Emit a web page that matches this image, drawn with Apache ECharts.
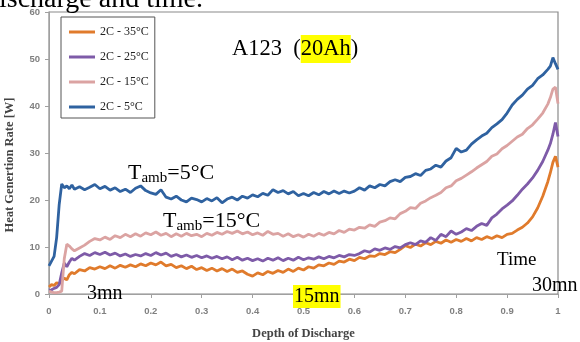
<!DOCTYPE html>
<html>
<head>
<meta charset="utf-8">
<script src="https://cdn.jsdelivr.net/npm/echarts@6/dist/echarts.min.js"></script>
<style>
  html, body { margin: 0; padding: 0; background: #fff; }
  #chart { width: 580px; height: 342px; }
</style>
</head>
<body>
<div id="chart"></div>
<script>
// Depth of discharge sample points
const depth = [0, 0.005, 0.01, 0.015, 0.02, 0.025, 0.03, 0.035, 0.04, 0.045, 0.05,
  0.06, 0.07, 0.08, 0.09, 0.10, 0.11, 0.12, 0.13, 0.14, 0.15, 0.16, 0.17, 0.18, 0.19,
  0.20, 0.21, 0.22, 0.23, 0.24, 0.25, 0.26, 0.27, 0.28, 0.29, 0.30, 0.31, 0.32, 0.33,
  0.34, 0.35, 0.36, 0.37, 0.38, 0.39, 0.40, 0.41, 0.42, 0.43, 0.44, 0.45, 0.46, 0.47,
  0.48, 0.49, 0.50, 0.51, 0.52, 0.53, 0.54, 0.55, 0.56, 0.57, 0.58, 0.59, 0.60, 0.61,
  0.62, 0.63, 0.64, 0.65, 0.66, 0.67, 0.68, 0.69, 0.70, 0.71, 0.72, 0.73, 0.74, 0.75,
  0.76, 0.77, 0.78, 0.79, 0.80, 0.81, 0.82, 0.83, 0.84, 0.85, 0.86, 0.87, 0.88, 0.89,
  0.90, 0.91, 0.92, 0.93, 0.94, 0.95, 0.96, 0.97, 0.98, 0.985, 0.99, 0.995, 1.0];

// Heat generation rate [W] at 2C for each ambient temperature
const heat35 = [1.5, 2.0, 1.8, 2.4, 2.2, 2.8, 3.4, 3.0, 4.1, 4.6, 4.3,
  5.2, 4.9, 5.6, 5.3, 5.8, 5.4, 6.0, 5.5, 6.1, 5.7, 6.2, 5.8, 6.4, 6.0,
  6.6, 6.2, 6.8, 6.0, 6.3, 5.6, 6.0, 5.4, 5.9, 5.2, 5.6, 5.0, 5.5, 4.9,
  5.4, 4.8, 5.3, 4.6, 4.9, 4.2, 3.8, 4.5, 4.1, 4.8, 4.4, 5.0, 4.6, 5.3,
  4.8, 5.5, 5.1, 5.8, 5.5, 6.2, 6.0, 6.6, 6.3, 7.0, 6.8, 7.4, 7.1, 7.8,
  7.5, 8.1, 8.0, 8.6, 8.4, 9.0, 8.8, 9.5, 10.3, 9.9, 10.6, 10.2, 10.9, 10.5,
  11.2, 10.8, 11.5, 11.0, 11.6, 11.2, 11.8, 11.3, 12.0, 11.6, 12.2, 11.8, 12.4, 12.0,
  12.7, 12.9, 13.6, 14.2, 15.1, 16.4, 18.3, 20.8, 23.9, 25.8, 28.0, 29.3, 27.0];

const heat25 = [0.8, 0.9, 1.2, 1.4, 2.0, 4.5, 6.6, 5.8, 6.8, 7.6, 7.2,
  8.0, 8.6, 8.2, 8.8, 8.4, 8.9, 8.3, 8.7, 8.1, 8.5, 8.0, 8.4, 8.1, 8.6,
  8.2, 8.8, 8.3, 8.7, 8.0, 8.4, 7.9, 8.3, 7.8, 8.2, 7.7, 8.1, 7.6, 8.0,
  7.5, 7.9, 7.3, 7.8, 7.2, 7.6, 7.1, 7.5, 7.0, 7.6, 7.2, 7.7, 7.1, 7.6,
  7.2, 7.8, 7.3, 7.7, 7.4, 7.9, 7.5, 8.0, 7.7, 8.2, 7.9, 8.4, 8.2, 8.6,
  9.2, 8.9, 9.6, 9.3, 9.8, 9.5, 10.1, 9.8, 10.5, 10.9, 10.5, 11.3, 11.0, 12.0,
  11.4, 12.7, 12.2, 13.4, 12.7, 13.2, 13.9, 13.5, 14.4, 15.0, 14.6, 16.2, 17.0, 18.1,
  18.9, 19.8, 21.0, 22.3, 23.4, 24.7, 26.3, 28.2, 30.6, 32.0, 34.0, 36.5, 33.5];

const heat15 = [0.6, 0.4, 0.3, 0.3, 0.4, 0.6, 7.5, 10.6, 10.2, 9.6, 9.2,
  9.8, 10.4, 11.2, 11.8, 11.5, 12.1, 11.6, 12.4, 12.0, 12.7, 12.2, 12.8, 12.3, 13.0,
  12.6, 13.2, 12.5, 12.9, 12.2, 12.8, 12.3, 12.9, 12.4, 12.7, 12.2, 12.9, 12.5, 13.1,
  12.7, 13.3, 12.9, 13.4, 12.8, 13.2, 12.6, 13.0, 12.5, 13.3, 12.7, 12.9, 12.3, 12.8,
  12.2, 12.6, 12.1, 12.7, 12.3, 12.9, 12.5, 13.1, 12.8, 13.5, 13.1, 13.8, 13.6, 14.2,
  14.0, 14.7, 14.4, 15.3, 15.6, 16.2, 16.0, 17.1, 17.6, 18.4, 18.2, 19.3, 19.8, 20.5,
  21.0, 21.6, 22.6, 23.0, 24.1, 24.6, 25.3, 26.0, 26.8, 27.5, 28.2, 29.3, 29.8, 30.9,
  31.6, 32.5, 33.4, 34.0, 35.2, 36.0, 37.2, 38.5, 40.4, 41.8, 43.6, 44.0, 40.5];

const heat5 = [6.0, 7.0, 8.0, 12.0, 19.0, 23.4, 22.6, 23.0, 22.4, 23.2, 22.3,
  22.8, 22.2, 22.7, 23.3, 22.4, 22.9, 22.1, 22.6, 21.8, 22.3, 21.6, 22.5, 23.0, 22.0,
  21.5, 21.2, 22.2, 20.6, 20.2, 20.8, 20.0, 19.6, 20.4, 20.1, 19.6, 20.3, 19.8, 20.5,
  19.4, 20.2, 20.6, 20.0, 20.8, 20.4, 21.1, 20.7, 21.4, 21.0, 22.2, 21.6, 22.0, 21.3,
  21.8, 20.9, 21.4, 20.9, 21.6, 21.1, 21.8, 21.3, 21.9, 21.4, 21.9, 21.5, 21.9, 22.6,
  22.1, 23.0, 22.6, 23.3, 23.0, 23.9, 24.3, 23.9, 24.8, 25.0, 25.6, 25.2, 26.3, 26.6,
  27.4, 27.0, 28.3, 29.0, 31.0, 30.2, 30.6, 31.9, 32.8, 33.6, 34.2, 35.4, 36.2, 37.1,
  38.5, 40.2, 41.4, 42.3, 43.6, 44.4, 45.8, 46.6, 47.8, 48.5, 50.3, 49.0, 47.8];

const seriesNames = ['2C - 35°C', '2C - 25°C', '2C - 15°C', '2C - 5°C'];
const seriesValues = [heat35, heat25, heat15, heat5];
const seriesColors = ['#E07B2C', '#7E5BA8', '#DBA3A2', '#2F62A0'];

const xTicks = [0, 0.1, 0.2, 0.3, 0.4, 0.5, 0.6, 0.7, 0.8, 0.9, 1];

const serif = '"Liberation Serif", "Times New Roman", serif';
const sans = '"Liberation Sans", Arial, sans-serif';

const chart = echarts.init(document.getElementById('chart'), null, { renderer: 'canvas' });

const series = seriesNames.map((name, k) => ({
  name: name,
  type: 'line',
  symbol: 'none',
  smooth: false,
  z: 2 + k,
  lineStyle: { width: 2.8, color: seriesColors[k] },
  itemStyle: { color: seriesColors[k] },
  data: depth.map((d, i) => [d, seriesValues[k][i]])
}));

const noteRich = {
  t: { fontFamily: serif, fontSize: 22, color: '#000', lineHeight: 26 },
  s: { fontFamily: serif, fontSize: 15, color: '#000', lineHeight: 12, verticalAlign: 'bottom' }
};

chart.setOption({
  animation: false,
  backgroundColor: '#ffffff',
  grid: {
    left: 49, right: 22, top: 12, bottom: 48,
    outerBoundsMode: 'none',
    show: true, borderColor: '#8a8a8a', borderWidth: 1.2
  },
  legend: {
    orient: 'vertical',
    left: 61, top: 17,
    padding: [9, 6, 5, 8],
    itemGap: 13,
    itemWidth: 26, itemHeight: 3,
    icon: 'rect',
    backgroundColor: '#ffffff',
    borderColor: '#555555', borderWidth: 1,
    data: seriesNames,
    textStyle: { fontFamily: serif, fontSize: 12, color: '#222', lineHeight: 12 }
  },
  xAxis: {
    type: 'value', min: 0, max: 1, interval: 0.1,
    name: 'Depth of Discharge', nameLocation: 'middle', nameGap: 33,
    nameTextStyle: { fontFamily: serif, fontWeight: 'bold', fontSize: 12.5, color: '#444' },
    axisLine: { show: true, lineStyle: { color: '#a0a0a0', width: 1 } },
    axisTick: { show: true, length: 4, lineStyle: { color: '#a0a0a0' } },
    axisLabel: {
      margin: 12, fontFamily: sans, fontWeight: 'bold', fontSize: 9.5, color: '#808080',
      formatter: v => {
        const t = xTicks.find(x => Math.abs(x - v) < 1e-6);
        return t === undefined ? '' : String(t);
      }
    },
    splitLine: { show: false }
  },
  yAxis: {
    type: 'value', min: 0, max: 60, interval: 10,
    name: 'Heat Genertion Rate [W]', nameLocation: 'middle', nameGap: 33,
    nameTextStyle: { fontFamily: serif, fontWeight: 'bold', fontSize: 12.5, color: '#444', padding: [0, 24, 0, 0] },
    axisLine: { show: true, lineStyle: { color: '#a0a0a0', width: 1 } },
    axisTick: { show: true, length: 4, lineStyle: { color: '#a0a0a0' } },
    axisLabel: { margin: 9, fontFamily: sans, fontWeight: 'bold', fontSize: 9.5, color: '#808080' },
    splitLine: { show: false }
  },
  series: series,
  graphic: [
    // caption line running above the figure
    { type: 'text', left: -15, top: -14, z: 50,
      style: { text: 'discharge and time.', font: '28px ' + serif, fill: '#000' } },
    // cell name with highlighted capacity
    { type: 'text', x: 232, y: 35, z: 50,
      style: {
        text: '{a|A123  (}{h|20Ah}{a|)}',
        rich: {
          a: { fontFamily: serif, fontSize: 22.5, color: '#000', lineHeight: 28, height: 28 },
          h: { fontFamily: serif, fontSize: 22.5, color: '#000', lineHeight: 28, height: 28, backgroundColor: '#ffff00' }
        }
      } },
    // ambient temperature notes
    { type: 'text', x: 128, y: 160, z: 50,
      style: { text: '{t|T}{s|amb}{t|=5°C}', rich: noteRich } },
    { type: 'text', x: 163, y: 208, z: 50,
      style: { text: '{t|T}{s|amb}{t|=15°C}', rich: noteRich } },
    // elapsed time markers
    { type: 'text', x: 87, y: 284, z: 50,
      style: { text: '3mn', font: '20px ' + serif, fill: '#000' } },
    { type: 'text', x: 293, y: 285, z: 50,
      style: {
        text: '{h|15mn}',
        rich: { h: { fontFamily: serif, fontSize: 20, color: '#000', lineHeight: 23, height: 23, backgroundColor: '#ffff00', padding: [0, 1] } }
      } },
    { type: 'text', x: 497, y: 251, z: 50,
      style: { text: 'Time', font: '19px ' + serif, fill: '#000' } },
    { type: 'text', x: 532, y: 276, z: 50,
      style: { text: '30mn', font: '20px ' + serif, fill: '#000' } }
  ]
});
</script>
</body>
</html>
